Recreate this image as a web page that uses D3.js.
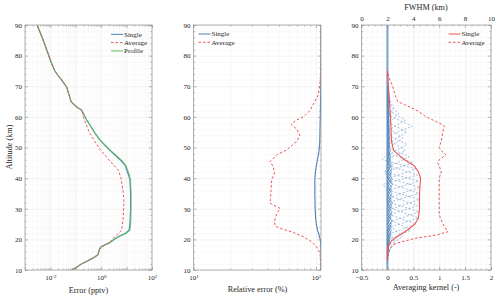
<!DOCTYPE html>
<html><head><meta charset="utf-8">
<script src="https://cdn.jsdelivr.net/npm/d3@7"></script>
<style>
body{margin:0;background:#fff}
svg{display:block}
text{font-family:"Liberation Serif","DejaVu Serif","Times New Roman",serif;fill:#262626}
</style>
</head><body><svg id="c" width="500" height="300"></svg>
<script>
// ---------- Panel 1: Error (pptv) ----------
const errAlt = [10,11,12,13,14,15,16,17,17.6,19,19.8,21,22,23,25,30,35,39.4,41,42.6,44,46,49.2,52.4,54.7,57,59,61,62.2,63,64,65,67,69.7,72,73.5,75,78,82,86,90];
const errSingle = [0.069,0.11,0.17,0.3,0.5,0.75,0.8,0.88,1.0,2.2,3.0,5.0,9.0,12.5,13.5,14.3,14.3,13.5,12.0,10.0,9.0,5.5,2.1,0.9,0.57,0.38,0.27,0.2,0.17,0.12,0.085,0.065,0.055,0.044,0.028,0.02,0.015,0.0105,0.0071,0.0047,0.003];
const errProfile = [0.069,0.11,0.17,0.3,0.5,0.75,0.8,0.88,1.0,2.2,3.0,5.3,9.8,13.5,14.5,15.0,15.0,14.3,13.0,11.0,9.5,6.0,2.2,0.9,0.57,0.38,0.27,0.2,0.17,0.12,0.085,0.065,0.055,0.044,0.028,0.02,0.015,0.0105,0.0071,0.0047,0.003];
const errAvgAlt = [10,11,12,13,14,15,16,17,17.6,19,19.8,20.9,23,27.4,32.9,36,40.3,42.6,46,49.2,52,55,58,60,62.2,63,64,65,67,69.7,72,73.5,75,78,82,86,90];
const errAvg = [0.069,0.11,0.17,0.3,0.5,0.75,0.8,0.88,1.0,2.2,2.6,3.5,6.4,7.4,7.9,7.2,5.9,4.7,2.0,0.95,0.55,0.34,0.24,0.2,0.17,0.12,0.085,0.065,0.055,0.044,0.028,0.02,0.015,0.0105,0.0071,0.0047,0.003];

// ---------- Panel 2: Relative error (%) ----------
const relAlt = [10,15,18,20,21.4,23,24.7,27,30,35,39.4,42,44.3,47,49,52,56,60,65,70,80,90];
const relSingle = [110,110,109.5,108.5,106,103,101,99.5,98.5,98,98,99,101,104,106,107.5,108,108.5,109,109.5,110,110];
const relAvgAlt = [10,12,15.5,17.6,19.2,20.9,22.5,23.6,24.4,25.8,27.5,29.1,30.1,31.8,33,36,39.4,41.6,43.7,45.4,47.6,49.2,50,52,54,56,57.5,59,60,62,65,67,70,75,80,90];
const relAvg = [110,109.5,108,101,92.4,79,63,51,46.4,45.8,47,49,51,42.2,42.5,43,43.5,45.8,44.9,42.2,47.9,57.7,61,69.7,74,69.7,62.6,69.7,78.9,89,98,104,107.5,109.5,110,110];

// ---------- Panel 3: Averaging kernels (-) and FWHM (km) ----------
const kAvgCenter = [17,19,21,23,25,27,29,31,33,35,37,39,41,43,45,47,49,51,53,55,57,59,61,63,65,67];
const kAvgPeak = [0.06,0.15,0.3,0.45,0.55,0.6,0.62,0.58,0.62,0.6,0.63,0.6,0.58,0.55,0.5,0.42,0.35,0.38,0.3,0.38,0.48,0.35,0.22,0.12,0.06,0.03];
const kAvgLow = [0.0,0.01,0.03,0.05,0.08,0.05,0.1,0.04,0.08,0.02,0.1,0.03,-0.08,0.04,-0.05,0.06,0.0,0.06,0.02,0.08,0.04,0.06,0.02,0.03,0.0,0.01];
const kAvgHigh = [0.02,0.05,0.08,0.1,0.06,0.1,0.05,0.08,0.03,0.1,0.02,-0.05,0.05,-0.1,0.04,0.02,0.08,0.02,0.06,0.04,0.08,0.03,0.04,0.01,0.02,0.0];
const kSingleCenter = [15,16,17,18,19,20,21,22,23,24,25,26,27,28,29,30,31,32,33,34,35,36,37,38,39,40,41,42,43,44,45,46,47,48,49,50,51,52,53,54,55,56,57,58,59,60,61,62,63,64,65,66,67,68];
const kSinglePeak = [0.01,0.015,0.02,0.03,0.035,0.05,0.06,0.07,0.08,0.07,0.08,0.09,0.07,0.08,0.09,0.07,0.08,0.1,0.07,0.08,0.09,0.07,0.08,0.1,0.08,0.09,0.07,0.08,0.09,0.07,0.08,0.06,0.07,0.05,0.06,0.05,0.04,0.05,0.04,0.05,0.04,0.035,0.04,0.03,0.035,0.03,0.04,0.03,0.025,0.03,0.02,0.02,0.015,0.01];
const fwhmSingleAlt = [13,16,17,18,19.5,21,23,25,27,30,35,40,42,44,46,49,52,56,60,65,70,75];
const fwhmSingle = [2,2,2.02,2.08,2.32,2.8,3.52,4.12,4.4,4.48,4.48,4.56,4.4,4.08,3.32,2.48,2.32,2.28,2.24,2.16,2.08,2];
const fwhmAvgAlt = [13,14.5,16.5,18.2,19.2,20.4,21.4,22.5,24.1,26.3,28,30.7,33,36,40,42,44,45,46,47.6,49,50,52,55,57,58,60,62,64,65,67,70,73,75];
const fwhmAvg = [2,2.04,2.16,2.4,3.08,4.24,5.76,6.68,6.4,6.16,6.0,6.0,6.0,6.0,6.0,6.16,6.0,5.88,6.0,6.52,6.16,6.0,6.16,6.28,6.4,6.0,5.0,4.32,3.32,2.8,2.6,2.4,2.12,2.0];

// tick labels
const yTicks = [10,20,30,40,50,60,70,80,90];
const err1Ticks = [1e-2,1,1e2];
const rel2Ticks = [10,100];
const akTicks = [-0.5,0,0.5,1,1.5,2];
const fwhmTicks = [0,2,4,6,8,10];

// ---------- colours ----------
const BLUE = "#4a7fb8", RED = "#ee5555", GREEN = "#5cbf5c";
const FONT = '"Liberation Serif","DejaVu Serif","Times New Roman",serif';

const svg = d3.select('#c');
const T = 25, B = 270;
const yS = d3.scaleLinear().domain([10,90]).range([B,T]);
const yMinor = d3.range(10,91,2).filter(v => v % 10 !== 0);

const x1 = d3.scaleLog().domain([1e-3,1e2]).range([25,152]);
const x2 = d3.scaleLog().domain([10,110]).range([193.5,321]);
const x3 = d3.scaleLinear().domain([-0.5,2]).range([361.5,491]);
const x3t = d3.scaleLinear().domain([0,10]).range([361.5,491]);

function logMinor(d0,d1){ const a=[]; for(let d=d0; d<d1; d++) for(let k=2;k<=9;k++) a.push(k*Math.pow(10,d)); return a; }

function styleAxis(g, stroke, sw){
  g.select('.domain').remove();
  g.attr('font-family',FONT);
  g.selectAll('line').attr('stroke',stroke).attr('stroke-width',sw);
  g.selectAll('text').attr('font-size',7).attr('font-family',FONT).attr('fill','#333');
  return g;
}

function panel(o){
  const {xs, xMaj, xMin, x0, x1p, id} = o;
  const g = svg.append('g');
  styleAxis(g.append('g').attr('transform',`translate(0,${B})`)
    .call(d3.axisBottom(xs).tickValues(xMin).tickSize(-(B-T)).tickFormat('')), '#f4f4f4', 0.5);
  styleAxis(g.append('g').attr('transform',`translate(${x0},0)`)
    .call(d3.axisLeft(yS).tickValues(yMinor).tickSize(-(x1p-x0)).tickFormat('')), '#f4f4f4', 0.5);
  styleAxis(g.append('g').attr('transform',`translate(0,${B})`)
    .call(d3.axisBottom(xs).tickValues(xMaj).tickSize(-(B-T)).tickFormat('')), '#e8e8e8', 0.5);
  styleAxis(g.append('g').attr('transform',`translate(${x0},0)`)
    .call(d3.axisLeft(yS).tickValues(yTicks).tickSize(-(x1p-x0)).tickFormat('')), '#e8e8e8', 0.5);
  svg.append('clipPath').attr('id',id).append('rect')
    .attr('x',x0).attr('y',T).attr('width',x1p-x0).attr('height',B-T);
  return g;
}

function frameTicks(o){
  const {xs, xMaj, xMin, xLab, xFmt, x0, x1p, topAxis, padB} = o;
  const g = svg.append('g');
  g.append('rect').attr('x',x0).attr('y',T).attr('width',x1p-x0).attr('height',B-T)
    .attr('fill','none').attr('stroke','#a0a0a0').attr('stroke-width',0.8);
  styleAxis(g.append('g').attr('transform',`translate(0,${B})`)
    .call(d3.axisBottom(xs).tickValues(xMin).tickSize(-1.6).tickFormat('')), '#8a8a8a', 0.5);
  styleAxis(g.append('g').attr('transform',`translate(0,${B})`)
    .call(d3.axisBottom(xs).tickValues(xMaj).tickSize(-3).tickFormat('')), '#8a8a8a', 0.6);
  const lab = styleAxis(g.append('g').attr('transform',`translate(0,${B})`)
    .call(d3.axisBottom(xs).tickValues(xLab).tickSize(0).tickPadding(padB).tickFormat(xFmt)), '#8a8a8a', 0);
  if(!topAxis){
    styleAxis(g.append('g').attr('transform',`translate(0,${T})`)
      .call(d3.axisTop(xs).tickValues(xMin).tickSize(-1.6).tickFormat('')), '#8a8a8a', 0.5);
    styleAxis(g.append('g').attr('transform',`translate(0,${T})`)
      .call(d3.axisTop(xs).tickValues(xMaj).tickSize(-3).tickFormat('')), '#8a8a8a', 0.6);
  }
  [[d3.axisLeft, x0],[d3.axisRight, x1p]].forEach(([ax,xx]) => {
    styleAxis(g.append('g').attr('transform',`translate(${xx},0)`)
      .call(ax(yS).tickValues(yMinor).tickSize(-1.6).tickFormat('')), '#8a8a8a', 0.5);
    styleAxis(g.append('g').attr('transform',`translate(${xx},0)`)
      .call(ax(yS).tickValues(yTicks).tickSize(-3).tickFormat('')), '#8a8a8a', 0.6);
  });
  styleAxis(g.append('g').attr('transform',`translate(${x0},0)`)
    .call(d3.axisLeft(yS).tickValues(yTicks).tickSize(0).tickPadding(3)), '#8a8a8a', 0);
  return lab;
}

function supLabels(g){
  g.selectAll('.tick text').each(function(d){
    const e = Math.round(Math.log10(d));
    const t = d3.select(this).text('10');
    t.append('tspan').attr('dy','-0.5em').attr('font-size',5).text(e);
  });
}

function legend(items, xl, y0){
  items.forEach((it,i) => {
    const yy = y0 + i*8.3;
    svg.append('line').attr('x1',xl).attr('x2',xl+12).attr('y1',yy).attr('y2',yy)
      .attr('stroke',it.c).attr('stroke-width',1).attr('stroke-dasharray',it.dash||null);
    svg.append('text').attr('x',xl+13).attr('y',yy+2.3).attr('font-size',7).attr('font-family',FONT).text(it.t);
  });
}

const lineGen = (xs, alts) => d3.line().x(d=>xs(d)).y((d,i)=>yS(alts[i]));

// ===== Panel 1 =====
const p1 = {xs:x1, xMaj:[1e-3,1e-2,1e-1,1,10,100], xMin:logMinor(-3,2), xLab:err1Ticks, xFmt:d=>'10', x0:25, x1p:152, id:'c1', padB:5.5};
panel(p1);
const d1 = svg.append('g').attr('clip-path','url(#c1)').attr('fill','none');
d1.append('path').attr('d', lineGen(x1,errAlt)(errSingle)).attr('stroke',BLUE).attr('stroke-width',1.1);
d1.append('path').attr('d', lineGen(x1,errAlt)(errProfile)).attr('stroke',GREEN).attr('stroke-width',1.1).attr('opacity',0.85);
d1.append('path').attr('d', lineGen(x1,errAvgAlt)(errAvg)).attr('stroke',RED).attr('stroke-width',1).attr('stroke-dasharray','2.5,2');
supLabels(frameTicks(p1));
legend([{t:'Single',c:BLUE},{t:'Average',c:RED,dash:'2.5,2'},{t:'Profile',c:GREEN}], 111, 34.3);

// ===== Panel 2 =====
const p2 = {xs:x2, xMaj:[10,100], xMin:[20,30,40,50,60,70,80,90], xLab:rel2Ticks, xFmt:d=>'10', x0:193.5, x1p:321, id:'c2', padB:5.5};
panel(p2);
const d2 = svg.append('g').attr('clip-path','url(#c2)').attr('fill','none');
d2.append('path').attr('d', lineGen(x2,relAlt)(relSingle)).attr('stroke',BLUE).attr('stroke-width',1.1);
d2.append('path').attr('d', lineGen(x2,relAvgAlt)(relAvg)).attr('stroke',RED).attr('stroke-width',1).attr('stroke-dasharray','2.5,2');
supLabels(frameTicks(p2));
legend([{t:'Single',c:BLUE},{t:'Average',c:RED,dash:'2.5,2'}], 198.5, 34);

// ===== Panel 3 =====
const p3 = {xs:x3, xMaj:akTicks, xMin:d3.range(-0.5,2.001,0.1).map(v=>+v.toFixed(2)), xLab:akTicks, xFmt:d3.format('~g'), x0:361.5, x1p:491, id:'c3', padB:5, topAxis:true};
panel(p3);
const d3g = svg.append('g').attr('clip-path','url(#c3)').attr('fill','none');
const akLine = d3.line().x(d=>x3(d[1])).y(d=>yS(d[0]));
d3g.append('path').attr('d', akLine([[10,0],[90,0]])).attr('stroke','#86abd2').attr('stroke-width',2.2);
kSingleCenter.forEach((c,i) => {
  d3g.append('path').attr('d', akLine([[c-2,0],[c,kSinglePeak[i]],[c+2,0]]))
    .attr('stroke',BLUE).attr('stroke-width',0.8).attr('opacity',0.85);
});
kAvgCenter.forEach((c,i) => {
  d3g.append('path').attr('d', akLine([[c-5,0],[c-3,kAvgLow[i]],[c,kAvgPeak[i]],[c+3,kAvgHigh[i]],[c+5,0]]))
    .attr('stroke','#5a8cc2').attr('stroke-width',0.75).attr('stroke-dasharray','2,1.8').attr('opacity',0.75);
});
d3g.append('path').attr('d', lineGen(x3t,fwhmSingleAlt)(fwhmSingle)).attr('stroke',RED).attr('stroke-width',1.1);
d3g.append('path').attr('d', lineGen(x3t,fwhmAvgAlt)(fwhmAvg)).attr('stroke',RED).attr('stroke-width',1).attr('stroke-dasharray','2.5,2');
frameTicks(p3);
styleAxis(svg.append('g').attr('transform',`translate(0,${T})`)
  .call(d3.axisTop(x3t).tickValues(d3.range(0.5,10,0.5).filter(v=>v%2!==0)).tickSize(-1.6).tickFormat('')), '#8a8a8a', 0.5);
styleAxis(svg.append('g').attr('transform',`translate(0,${T})`)
  .call(d3.axisTop(x3t).tickValues(fwhmTicks).tickSize(-3).tickFormat('')), '#8a8a8a', 0.6);
styleAxis(svg.append('g').attr('transform',`translate(0,${T})`)
  .call(d3.axisTop(x3t).tickValues(fwhmTicks).tickSize(0).tickPadding(4.5)), '#8a8a8a', 0);
legend([{t:'Single',c:RED},{t:'Average',c:RED,dash:'2.5,2'}], 448.5, 34);

// ===== axis titles =====
const title = (x,y,t,rot) => svg.append('text').attr('transform',`translate(${x},${y})${rot?' rotate(-90)':''}`)
  .attr('text-anchor','middle').attr('font-size',8.2).attr('font-family',FONT).attr('fill','#333').text(t);
title(12,147,'Altitude (km)',true);
title(88.5,292.5,'Error (pptv)');
title(257.5,292,'Relative error (%)');
title(426,290,'Averaging kernel (-)');
title(426,10,'FWHM (km)');
</script></body></html>
